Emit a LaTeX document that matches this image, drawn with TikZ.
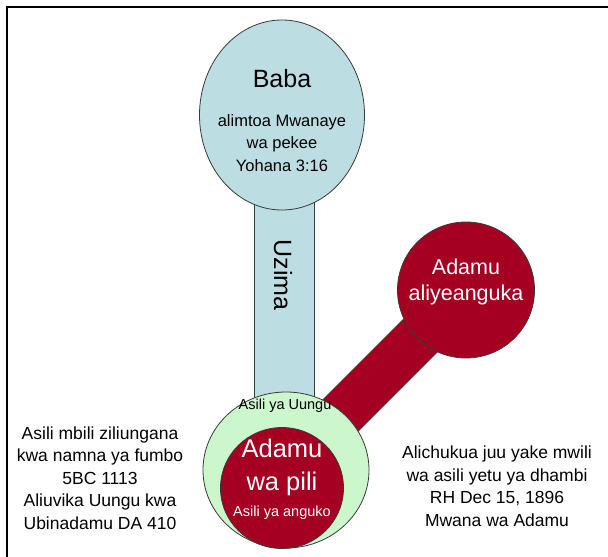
\documentclass[tikz,border=0pt]{standalone}
\usepackage{fontspec}
\setmainfont{Liberation Sans}
\usetikzlibrary{shapes.geometric}
\definecolor{babablue}{HTML}{BCDEE3}
\definecolor{uungugreen}{HTML}{CCF7CC}
\definecolor{fallred}{HTML}{A50021}
\definecolor{edgegray}{HTML}{3A3A3A}
\begin{document}
\begin{tikzpicture}[x=1pt,y=-1pt,
  blob/.style={ellipse, draw=edgegray, line width=0.8pt, inner sep=0pt, outer sep=0pt},
  big/.style={font=\fontsize{25}{29}\selectfont},
  mid/.style={font=\fontsize{16.5}{22.5}\selectfont, align=center},
  side/.style={font=\fontsize{17.5}{22.5}\selectfont, align=center},
  small/.style={font=\fontsize{14.5}{16}\selectfont}]
\useasboundingbox (0,0) rectangle (608,557);
\clip (0,0) rectangle (608,557);
\draw[line width=2.5pt] (7,7) rectangle (640,600);
% centres
\coordinate (cBaba) at (282,115);
\coordinate (cGreen) at (286,470);
\coordinate (cFall) at (466,290);
% stem
\node[draw=edgegray, fill=babablue, line width=0.8pt, minimum width=60pt, minimum height=240pt, inner sep=0pt] (stem) at (284,300) {};
% red band
\draw[line width=48pt, edgegray] (cGreen) -- (cFall);
\draw[line width=46.4pt, fallred] (cGreen) -- (cFall);
% circles
\node[blob, fill=babablue, minimum width=165pt, minimum height=190pt] (baba) at (cBaba) {};
\node[blob, fill=uungugreen, minimum width=166pt, minimum height=156pt] (green) at (cGreen) {};
\node[blob, fill=fallred, minimum width=123pt, minimum height=121pt] (red) at (282,488) {};
\node[blob, fill=fallred, minimum width=137pt, minimum height=136pt] (fall) at (cFall) {};
% texts
\node[big] (tBaba) at (282,79) {Baba};
\node[mid] (tBabaSub) at (282,143) {alimtoa Mwanaye\\wa pekee\\Yohana 3:16};
\node[big, rotate=-90] (tUzima) at (283,275) {Uzima};
\node[text=white, align=center, font=\fontsize{21.5}{26}\selectfont] (tFall) at (466,282) {Adamu\\aliyeanguka};
\node[small] (tUungu) at (285,406) {Asili ya Uungu};
\node[text=white, align=center, font=\fontsize{25.5}{33}\selectfont] (tPili) at (282,467) {Adamu\\wa pili};
\node[small, text=white] (tAnguko) at (282,513) {Asili ya anguko};
\node[side] (tLeft) at (100,478) {Asili mbili ziliungana\\kwa namna ya fumbo\\5BC 1113\\Aliuvika Uungu kwa\\Ubinadamu DA 410};
\node[side] (tRight) at (497,486) {Alichukua juu yake mwili\\wa asili yetu ya dhambi\\RH Dec 15, 1896\\Mwana wa Adamu};
\end{tikzpicture}
\end{document}
